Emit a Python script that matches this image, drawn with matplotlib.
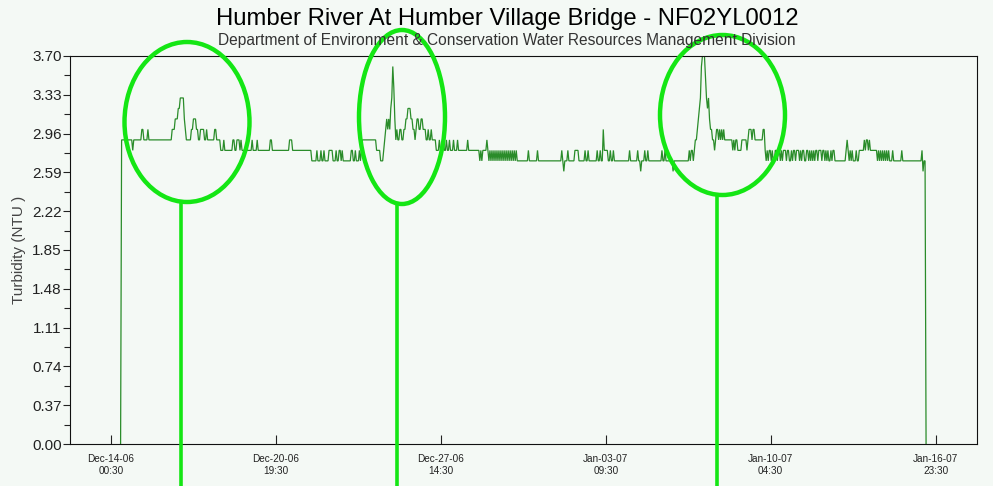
import datetime as dt
import numpy as np
import matplotlib
matplotlib.use("Agg")
import matplotlib.pyplot as plt
import matplotlib.dates as mdates
from matplotlib.patches import Ellipse

plt.rcParams['font.family'] = ['Liberation Sans', 'DejaVu Sans']

# ---------------- data ----------------
title = "Humber River At Humber Village Bridge - NF02YL0012"
subtitle = "Department of Environment & Conservation Water Resources Management Division"
ylabel = "Turbidity (NTU )"

first_reading = dt.datetime(2006, 12, 14, 10, 0)   # hourly readings

# run-length encoded hourly turbidity readings (NTU, number of hours)
run_values = [
    0.0, 2.9, 2.8, 2.9, 3.0, 2.9, 3.0, 2.9, 3.0, 3.1, 3.2, 3.3, 3.1, 3.0, 2.9, 3.0, 3.1, 3.0, 2.9, 3.0,
    2.9, 3.0, 2.9, 3.0, 2.9,
    2.8, 2.9, 2.8, 2.9, 2.8, 2.9, 2.8, 2.9, 2.8, 2.9, 2.8, 2.9, 2.8, 2.9, 2.8, 2.9, 2.8,
    2.7, 2.8, 2.7, 2.8, 2.7, 2.8, 2.7, 2.8, 2.7, 2.8, 2.7, 2.8, 2.7, 2.8, 2.7, 2.8, 2.7, 2.8, 2.7, 2.8,
    2.7, 2.8, 2.9, 2.8, 2.7, 2.8, 2.9,
    3.0, 3.1, 3.0, 3.1, 3.0, 3.2, 3.3, 3.6, 3.4, 3.1, 2.9, 3.0, 2.9, 3.0, 2.9, 3.0, 3.1, 3.2, 3.1, 3.0,
    2.9, 3.0, 3.1, 3.0, 3.1, 3.0, 2.9, 3.0, 2.9, 3.0, 2.9,
    2.8, 2.9, 2.8, 2.9, 2.8, 2.9, 2.8, 2.9, 2.8, 2.9, 2.8, 2.9, 2.8, 2.9, 2.8, 2.7, 2.8, 2.7, 2.8, 2.9, 2.8,
    2.7, 2.8, 2.7, 2.8, 2.7, 2.8, 2.7, 2.8, 2.7, 2.8, 2.7, 2.8, 2.7, 2.8, 2.7, 2.8, 2.7, 2.8, 2.7, 2.8,
    2.7, 2.8, 2.7, 2.8, 2.7, 2.8, 2.7, 2.8, 2.7,
    2.7, 2.8, 2.7, 2.8, 2.7, 2.8, 2.7, 2.6, 2.7, 2.8, 2.7, 2.8, 2.7, 2.8, 2.7, 2.8, 2.7, 2.8, 2.7, 2.8,
    2.7, 3.0, 2.8, 2.7, 2.8, 2.7, 2.8, 2.7, 2.8, 2.7, 2.8, 2.7, 2.6, 2.7, 2.8, 2.7, 2.8, 2.7, 2.8, 2.7,
    2.8, 2.7, 2.6, 2.7,
    2.8, 2.7, 2.8, 2.7, 2.8, 2.9, 3.0, 3.1, 3.2, 3.3, 3.6, 3.7, 3.5, 3.3, 3.2, 3.3, 3.1, 3.0, 2.9, 2.8,
    2.9, 3.0, 2.9, 3.0, 2.9, 3.0, 2.9, 3.0, 2.9, 2.8, 2.9, 2.8, 2.9, 2.8, 2.9, 2.8, 2.9, 3.0, 2.9, 3.0,
    2.9, 3.0, 2.8, 2.7, 2.8,
    2.7, 2.8, 2.7, 2.8, 2.7, 2.8, 2.7, 2.8, 2.7, 2.8, 2.7, 2.8, 2.7, 2.8, 2.7, 2.8, 2.7, 2.8, 2.7, 2.8,
    2.7, 2.8, 2.7, 2.8, 2.7, 2.8, 2.7, 2.8, 2.7, 2.8, 2.7, 2.8, 2.7, 2.8, 2.7, 2.8, 2.7, 2.8, 2.7, 2.8,
    2.7, 2.8, 2.7, 2.8, 2.7, 2.8,
    2.7, 2.8, 2.9, 2.8, 2.7, 2.8, 2.7, 2.8, 2.7, 2.8, 2.7, 2.8, 2.9, 2.8, 2.9, 2.8, 2.9, 2.8,
    2.7, 2.8, 2.7, 2.8, 2.7, 2.8, 2.7, 2.8, 2.7, 2.8, 2.7, 2.8, 2.7,
    2.7, 2.8, 2.7, 2.8, 2.7, 2.8, 2.6, 2.7, 0.0,
]
run_hours = [
    1, 11, 1, 8, 2, 4, 1, 23, 3, 3, 2, 4, 1, 1, 5, 2, 3, 2, 2, 4,
    2, 1, 7, 2, 4,
    3, 1, 8, 2, 2, 3, 1, 1, 10, 1, 4, 1, 12, 2, 17, 3, 19,
    5, 1, 3, 1, 2, 1, 4, 4, 3, 1, 2, 2, 1, 1, 8, 2, 2, 1, 3, 1,
    1, 1, 14, 4, 3, 1, 1,
    1, 1, 1, 1, 1, 1, 1, 1, 1, 1, 1, 1, 2, 2, 2, 2, 2, 3, 2, 2,
    1, 1, 2, 2, 2, 3, 2, 1, 2, 1, 4,
    3, 1, 3, 1, 2, 1, 2, 1, 3, 1, 3, 1, 9, 1, 11, 1, 1, 1, 4, 1, 1,
    1, 1, 1, 1, 1, 1, 1, 1, 1, 1, 1, 1, 1, 1, 1, 1, 1, 1, 1, 1,
    1, 1, 1, 1, 1, 1, 1, 1, 1,
    10, 1, 8, 1, 23, 1, 1, 1, 3, 1, 6, 4, 6, 1, 2, 1, 8, 1, 2, 1,
    2, 1, 4, 2, 1, 2, 1, 15, 1, 7, 1, 2, 1, 3, 1, 2, 1, 13, 1, 2,
    1, 7, 1, 15,
    1, 1, 2, 1, 1, 2, 1, 1, 1, 1, 1, 3, 1, 1, 1, 1, 1, 2, 2, 1,
    1, 2, 1, 1, 1, 1, 1, 1, 8, 1, 1, 1, 2, 4, 5, 1, 1, 3, 1, 2,
    8, 2, 1, 1, 1,
    1, 2, 1, 1, 2, 2, 1, 2, 1, 1, 1, 3, 1, 2, 2, 1, 1, 2, 1, 3,
    1, 1, 1, 2, 2, 2, 1, 1, 1, 1, 1, 1, 1, 2, 1, 3, 1, 2, 1, 1,
    1, 1, 2, 1, 1, 2,
    11, 1, 1, 1, 1, 1, 1, 1, 3, 1, 2, 5, 1, 1, 2, 1, 1, 7,
    1, 1, 1, 1, 1, 1, 1, 1, 1, 1, 1, 1, 1,
    2, 1, 8, 1, 19, 1, 1, 2, 1,
]

tick_times = [dt.datetime(2006, 12, 14, 0, 30), dt.datetime(2006, 12, 20, 19, 30),
              dt.datetime(2006, 12, 27, 14, 30), dt.datetime(2007, 1, 3, 9, 30),
              dt.datetime(2007, 1, 10, 4, 30), dt.datetime(2007, 1, 16, 23, 30)]
tick_labels = ["Dec-14-06\n00:30", "Dec-20-06\n19:30", "Dec-27-06\n14:30",
               "Jan-03-07\n09:30", "Jan-10-07\n04:30", "Jan-16-07\n23:30"]
x_start = dt.datetime(2006, 12, 12, 8, 0)
x_end = dt.datetime(2007, 1, 18, 16, 20)
y_ticks = [0.00, 0.37, 0.74, 1.11, 1.48, 1.85, 2.22, 2.59, 2.96, 3.33, 3.70]

# highlight annotations (figure pixel coordinates: cx, cy, width, height)
highlight_ellipses = [(187, 122, 125, 160), (402, 117, 86, 174), (722.5, 115, 125, 160)]
highlight_lines = [(181, 202), (396.5, 204), (717, 195)]

# ---------------- build series ----------------
values = np.repeat(run_values, run_hours)
times = [first_reading + dt.timedelta(hours=int(i)) for i in range(len(values))]

W, H = 993, 486
bg = '#f4f9f5'
fig = plt.figure(figsize=(W / 100, H / 100), dpi=100, facecolor=bg)
ax = fig.add_axes([70 / W, 1 - 444 / H, (977 - 70) / W, (444 - 56) / H], facecolor=bg)

ax.plot(times, values, color='#2a8c2a', lw=0.9, solid_joinstyle='miter')

ax.set_xlim(x_start, x_end)
ax.set_ylim(0, 3.70)
ax.set_yticks(y_ticks)
ax.set_yticklabels([f"{v:.2f}" for v in y_ticks])
ax.set_yticks([(a + b) / 2 for a, b in zip(y_ticks[:-1], y_ticks[1:])], minor=True)
ax.set_xticks(tick_times)
ax.set_xticklabels(tick_labels, fontsize=7.2, linespacing=1.3)
ax.xaxis.set_minor_locator(matplotlib.ticker.NullLocator())

ax.tick_params(axis='y', which='major', direction='out', length=5, width=0.8,
               labelsize=11, pad=1, colors='#222222')
ax.tick_params(axis='y', which='minor', direction='out', length=4, width=0.8, colors='#222222')
ax.tick_params(axis='x', which='major', direction='in', length=6.5, width=0.8,
               pad=7, colors='#222222')
for s in ax.spines.values():
    s.set_color('#111111')
    s.set_linewidth(0.8)

ax.set_ylabel(ylabel, fontsize=11, color='#444444', labelpad=4)

fig.text(507 / W, 1 - 25 / H, title, ha='center', va='baseline', fontsize=17.2, color='#000000')
fig.text(507 / W, 1 - 45.5 / H, subtitle, ha='center', va='baseline', fontsize=11.2, color='#333333')

# overlay annotation layer
ov = fig.add_axes([0, 0, 1, 1], facecolor='none')
ov.set_xlim(0, W)
ov.set_ylim(H, 0)
ov.axis('off')
hl_color = '#14e614'
for (cx, cy, w, h) in highlight_ellipses:
    ov.add_patch(Ellipse((cx, cy), w, h, fill=False, edgecolor=hl_color, lw=3.2))
for (x, y0) in highlight_lines:
    ov.plot([x, x], [y0, H], color=hl_color, lw=2.6, solid_capstyle='butt')

fig.savefig('out.png', dpi=100, facecolor=bg)
